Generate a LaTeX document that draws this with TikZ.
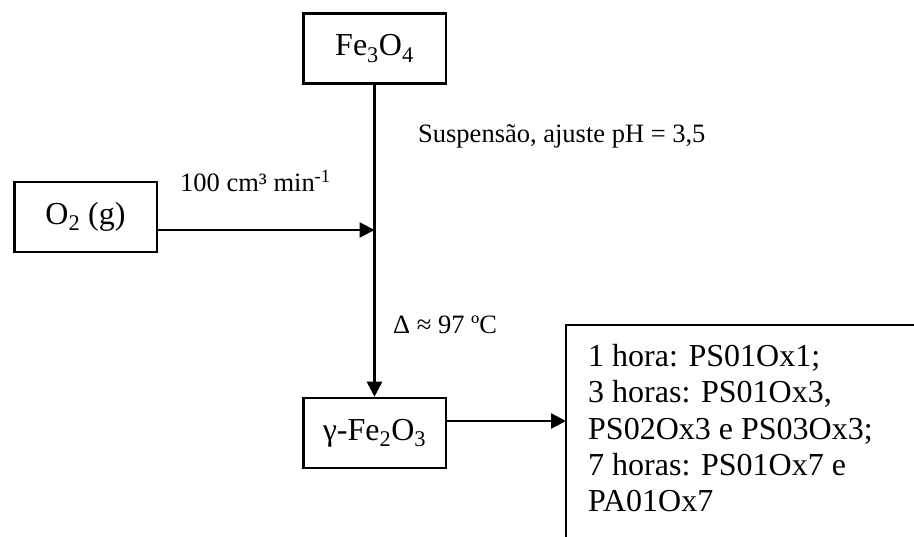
\documentclass[tikz,border=0pt]{standalone}
\usepackage{fontspec}
\setmainfont{Liberation Serif}
\usetikzlibrary{arrows.meta}
\tikzset{
  box/.style={draw, line width=2.5pt, rectangle, minimum width=142.5pt, minimum height=70pt, inner sep=0pt,
    font=\fontsize{32}{36}\selectfont},
  conn/.style={line width=2.5pt},
  arr/.style={conn, -{Triangle[length=15pt,width=15pt]}},
  lbl/.style={inner sep=0pt, font=\fontsize{26.5}{30}\selectfont},
  restxt/.style={inner sep=0pt, align=left, font=\fontsize{32}{36.3}\selectfont}
}
\begin{document}
\begin{tikzpicture}[x=1pt,y=-1pt]
\useasboundingbox (0,0) rectangle (914,537);
\clip (0,0) rectangle (914,537);
\fill[white] (0,0) rectangle (914,537);

\node[box] (fe) at (374.5,48.5) {Fe\textsubscript{3}O\textsubscript{4}};
\node[box] (o2) at (85.5,217) {O\textsubscript{2} (g)};
\node[box] (gam) at (374.5,433) {γ-Fe\textsubscript{2}O\textsubscript{3}};
\node[draw, line width=2.5pt, rectangle, outer sep=0pt, anchor=north west,
      minimum width=400pt, minimum height=260pt] (res) at (566,325) {};
\node[restxt, anchor=north west] (restext) at (588,344)
  {1 hora: PS01Ox1;\\3 horas: PS01Ox3,\\PS02Ox3 e PS03Ox3;\\7 horas: PS01Ox7 e\\PA01Ox7};

\coordinate (j) at (fe.south |- 0,230);
\coordinate (g) at (gam.east |- 0,421);

\draw[arr] (fe.south) -- (gam.north);
\draw[arr] (o2.east |- j) -- (j);
\draw[arr] (g) -- (res.west |- g);

\node[lbl, anchor=base west] (l1) at (180,192) {100 cm³ min\textsuperscript{-1}};
\node[lbl, anchor=base west] (l2) at (418,143) {Suspensão, ajuste pH = 3,5};
\node[lbl, anchor=base west] (l3) at (393,334) {Δ ≈ 97 ºC};
\end{tikzpicture}
\end{document}
